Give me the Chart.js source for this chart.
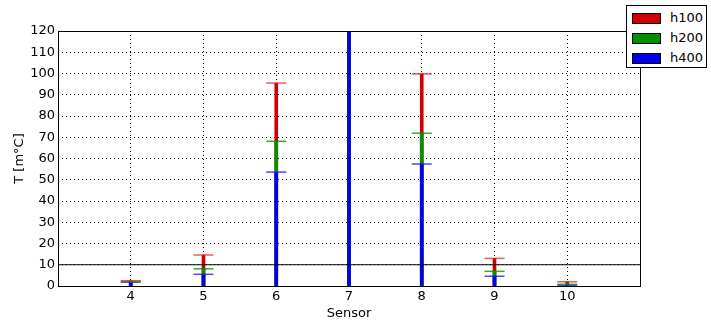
<!DOCTYPE html>
<html>
<head>
<meta charset="utf-8">
<script src="https://cdn.jsdelivr.net/npm/chart.js@4/dist/chart.umd.min.js"></script>
<style>
    body { margin: 0; background: #fff; }
    #wrap { position: relative; width: 711px; height: 321px; }
    #legend {
        position: absolute; left: 626px; top: 5px; width: 81px; height: 63px;
        border: 1px solid #000; background: #fff; box-sizing: border-box;
        font-family: "DejaVu Sans", sans-serif; font-size: 13px; color: #000;
    }
    .row { position: absolute; left: 5px; height: 20px; line-height: 20px; }
    .sw { position: absolute; top: 5px; left: 0; width: 27px; height: 9px; border: 1px solid #000; }
    .lbl { position: absolute; left: 38px; top: 0; }
</style>
</head>
<body>
<div id="wrap">
    <canvas id="chart" width="711" height="321"></canvas>
    <div id="legend"></div>
</div>
<script>
var sensors = [4, 5, 6, 7, 8, 9, 10];
var h100 = [2.5, 14.6, 95.5, 150, 99.8, 13.0, 2.0];
var h200 = [2.1, 8.1, 68.1, 140, 71.9, 6.9, 0.8];
var h400 = [1.8, 5.5, 53.6, 130, 57.4, 4.6, 0.3];
var seriesNames = ['h100', 'h200', 'h400'];
var seriesColors = ['#d00000', '#009000', '#0000ee'];
var capColors = ['rgba(220,40,40,0.75)', 'rgba(0,150,0,0.8)', 'rgba(30,30,240,0.8)'];
var limitLine = 10;

function toPoints(values) {
    var pts = [];
    for (var i = 0; i < sensors.length; i++) {
        pts.push({ x: sensors[i], y: values[i] });
    }
    return pts;
}

var allSeries = [h100, h200, h400];
var datasets = [];
for (var s = 0; s < allSeries.length; s++) {
    datasets.push({
        type: 'bar',
        label: seriesNames[s],
        data: toPoints(allSeries[s]),
        backgroundColor: seriesColors[s],
        barThickness: 3,
        grouped: false,
        order: 3 - s + 1
    });
    datasets.push({
        type: 'scatter',
        label: seriesNames[s] + ' cap',
        data: toPoints(allSeries[s]),
        pointStyle: 'line',
        pointRadius: 10,
        pointHoverRadius: 10,
        borderColor: capColors[s],
        backgroundColor: capColors[s],
        borderWidth: 1.5,
        order: 0
    });
}
datasets.push({
    type: 'line',
    label: 'limite',
    data: [{ x: 3, y: limitLine }, { x: 11, y: limitLine }],
    borderColor: '#000',
    borderWidth: 1,
    pointRadius: 0,
    order: 0
});

var frame = {
    id: 'frame',
    afterDraw: function (chart) {
        var a = chart.chartArea;
        var ctx = chart.ctx;
        ctx.save();
        ctx.strokeStyle = '#000';
        ctx.lineWidth = 1;
        ctx.strokeRect(Math.round(a.left) + 0.5, Math.round(a.top) + 0.5,
            Math.round(a.right - a.left), Math.round(a.bottom - a.top));
        ctx.restore();
    }
};

Chart.defaults.font.family = '"DejaVu Sans", sans-serif';
Chart.defaults.color = '#000';

var context = document.getElementById('chart').getContext('2d');
var chart = new Chart(context, {
    type: 'bar',
    data: { datasets: datasets },
    options: {
        responsive: false,
        animation: false,
        layout: { padding: { left: 0, right: 71, top: 31, bottom: 0 } },
        plugins: {
            legend: { display: false },
            tooltip: { enabled: false }
        },
        scales: {
            x: {
                type: 'linear',
                min: 3,
                max: 11,
                offset: false,
                z: 1,
                afterFit: function (scale) { scale.height = 35; },
                ticks: {
                    stepSize: 1,
                    font: { size: 13 },
                    padding: 3,
                    callback: function (v) { return (v === 3 || v === 11) ? '' : v; }
                },
                grid: { color: '#000', lineWidth: 1, offset: false, drawTicks: false },
                border: { display: false, dash: [1, 3] },
                title: { display: true, text: 'Sensor', font: { size: 13 }, padding: { top: 0, bottom: 0 } }
            },
            y: {
                min: 0,
                max: 120,
                z: 1,
                afterFit: function (scale) { scale.width = 58; },
                ticks: { stepSize: 10, font: { size: 13 }, padding: 3 },
                grid: { color: '#000', lineWidth: 1, drawTicks: false },
                border: { display: false, dash: [1, 3] },
                title: { display: true, text: 'T [m°C]', font: { size: 13 }, padding: { top: 12, bottom: 0 } }
            }
        }
    },
    plugins: [frame]
});

var legendBox = document.getElementById('legend');
for (var k = 0; k < seriesNames.length; k++) {
    var row = document.createElement('div');
    row.className = 'row';
    row.style.top = (2 + k * 20) + 'px';
    row.innerHTML = '<div class="sw" style="background:' + seriesColors[k] + '"></div><span class="lbl">' + seriesNames[k] + '</span>';
    legendBox.appendChild(row);
}
</script>
</body>
</html>
